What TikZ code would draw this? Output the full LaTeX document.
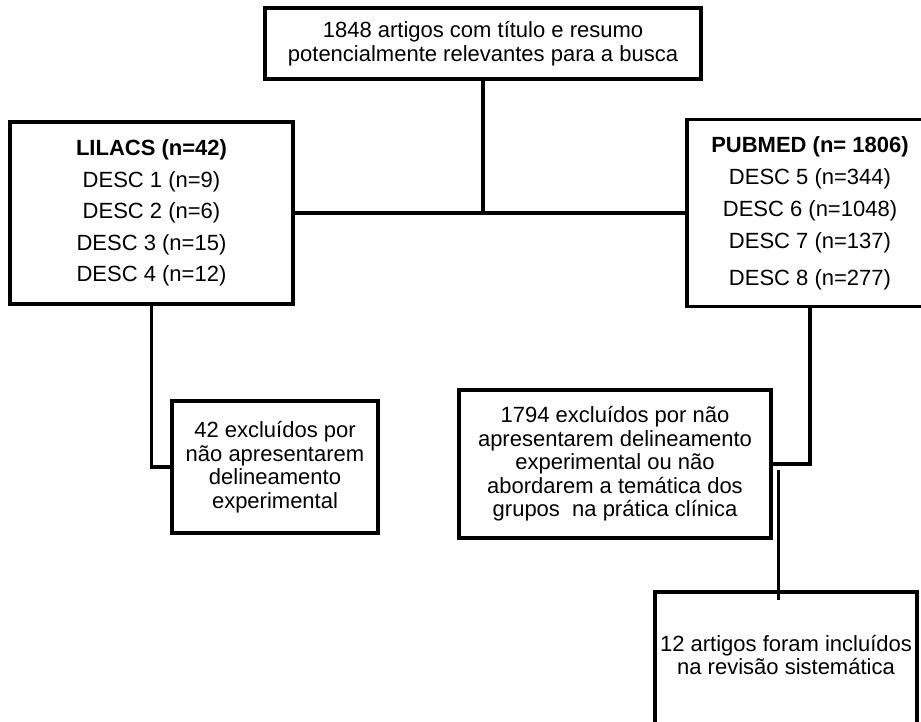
\documentclass[tikz,border=0pt]{standalone}
\usepackage{fontspec}
\setmainfont{Liberation Sans}
\usetikzlibrary{
	calc,
	positioning,
}
\tikzset{box node/.style={
	draw,
	rectangle,
	inner sep=0mm,
	line width=3.2pt,
	align=center,
	font=\fontsize{22}{23.5}\selectfont,
	black,
}}

\begin{document}
\begin{tikzpicture}[x=1pt,y=-1pt,line width=3.2pt,every node/.style={box node}]
\useasboundingbox (0,0) rectangle (921,721);

\node(busca) at(483,43.5) [minimum width=436pt, minimum height=71pt]
	{1848 artigos com título e resumo\\potencialmente relevantes para a busca};

\node(lilacs) at(151.5,213) [minimum width=283pt, minimum height=182pt, font=\fontsize{22}{31.5}\selectfont]
	{\textbf{LILACS (n=42)}\\DESC 1 (n=9)\\DESC 2 (n=6)\\DESC 3 (n=15)\\DESC 4 (n=12)};

\node(pubmed) at(810,213) [minimum width=246pt, minimum height=187pt, font=\fontsize{22}{32}\selectfont]
	{\textbf{PUBMED (n= 1806)}\\DESC 5 (n=344)\\DESC 6 (n=1048)\\DESC 7 (n=137)\\[5pt]DESC 8 (n=277)};

\node(excl1) at(275,467) [minimum width=206pt, minimum height=132pt]
	{42 excluídos por\\não apresentarem\\delineamento\\experimental};

\node(excl2) at(615,464) [minimum width=312pt, minimum height=148pt]
	{1794 excluídos por não\\apresentarem delineamento\\experimental ou não\\abordarem a temática dos\\grupos\ \ na prática clínica};

\node(incl) at(786,667) [minimum width=262pt, minimum height=150pt, text depth=24pt]
	{12 artigos foram incluídos\\na revisão sistemática};

\draw (busca) -- (busca.south |- lilacs.east);
\draw (lilacs) -- (pubmed);

\foreach \u \v in {
	lilacs/excl1,
	pubmed/excl2%
}{
	\draw (\u) |- (\v);
}

\coordinate (ponto) at ([xshift=6pt,yshift=-6pt]excl2.east);
\draw[line width=2.4pt] (ponto) -- ([yshift=-10pt]ponto |- incl.north);

\end{tikzpicture}
\end{document}
